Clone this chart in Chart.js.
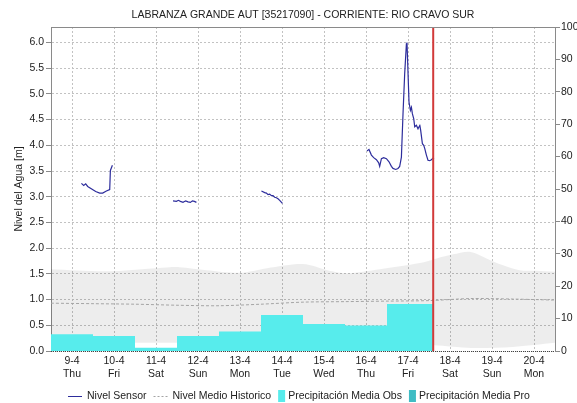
<!DOCTYPE html>
<html>
<head>
<meta charset="utf-8">
<script src="https://cdn.jsdelivr.net/npm/chart.js@4.4.1/dist/chart.umd.min.js"></script>
<style>
  html, body { margin: 0; padding: 0; background: #ffffff; }
  #wrap { width: 577px; height: 403px; }
</style>
</head>
<body>
<div id="wrap"><canvas id="c" width="577" height="403" style="width:577px;height:403px"></canvas></div>
<script>
// ---- chart text ----
const chartTitle = 'LABRANZA GRANDE AUT [35217090] - CORRIENTE: RIO CRAVO SUR';
const levelAxisTitle = 'Nivel del Agua [m]';

// ---- x axis: one tick per day (day 0 = 9-4) ----
const dayLabels = ['9-4', '10-4', '11-4', '12-4', '13-4', '14-4', '15-4', '16-4', '17-4', '18-4', '19-4', '20-4'];
const weekdays  = ['Thu', 'Fri', 'Sat', 'Sun', 'Mon', 'Tue', 'Wed', 'Thu', 'Fri', 'Sat', 'Sun', 'Mon'];
const dayMin = -0.5;
const dayMax = 11.5;
const nowDay = 8.6;            // current time marker

// ---- y axes ----
const levelTicks = [0, 0.5, 1, 1.5, 2, 2.5, 3, 3.5, 4, 4.5, 5, 5.5, 6];
const levelMax = 6.3;
const rainTicks = [0, 10, 20, 30, 40, 50, 60, 70, 80, 90, 100];

// ---- sensor water level [m]; null = no reading ----
const sensorDay = [
  0.224, 0.279, 0.326, 0.374, 0.469, 0.564, 0.660, 0.731, 0.819, 0.898, 0.914, 0.962,
  1.5,
  2.405, 2.486, 2.533, 2.581, 2.643, 2.707, 2.762, 2.819, 2.867, 2.914, 2.962,
  3.5,
  4.510, 4.588, 4.629, 4.667, 4.707, 4.748, 4.786, 4.826, 4.867, 4.905, 4.945, 5.010,
  6.0,
  7.024, 7.071, 7.129, 7.183, 7.248, 7.302, 7.326, 7.367, 7.421, 7.486, 7.548, 7.605,
  7.643, 7.707, 7.762, 7.802, 7.843, 7.881, 7.921, 7.962, 7.976, 8.024, 8.057, 8.081,
  8.105, 8.136, 8.160, 8.200, 8.238, 8.262, 8.279, 8.302, 8.343, 8.374, 8.398, 8.438,
  8.476, 8.517, 8.557, 8.595, 8.619
];
const sensorLevel = [
  3.26, 3.22, 3.25, 3.20, 3.15, 3.10, 3.07, 3.07, 3.11, 3.14, 3.51, 3.61,
  null,
  2.92, 2.91, 2.93, 2.91, 2.89, 2.92, 2.90, 2.89, 2.92, 2.91, 2.89,
  null,
  3.11, 3.08, 3.07, 3.04, 3.05, 3.02, 3.02, 2.99, 2.98, 2.96, 2.93, 2.87,
  null,
  3.89, 3.92, 3.81, 3.76, 3.72, 3.66, 3.59, 3.74, 3.76, 3.74, 3.68, 3.59,
  3.55, 3.53, 3.55, 3.59, 3.77, 4.61, 5.39, 5.97, 6.00, 4.84, 4.68, 4.74,
  4.61, 4.52, 4.36, 4.39, 4.32, 4.36, 4.40, 4.29, 4.03, 4.00, 3.94, 3.81,
  3.71, 3.70, 3.72, 3.75, 3.74
];

// ---- historic level: mean line and min/max envelope [m] ----
const histMeanDay = [-0.5, 0.5, 1.5, 2.5, 3.5, 4.5, 5.5, 6.5, 7.5, 8.5, 9.5, 10.5, 11.5];
const histMean    = [0.93, 0.92, 0.91, 0.89, 0.88, 0.91, 0.95, 0.96, 0.97, 0.98, 1.02, 1.01, 0.99];
const histMaxDay  = [-0.5, 0.83, 2.02, 2.56, 3.21, 3.99, 4.64, 5.5, 6.13, 6.54, 7.33, 8.28, 8.68, 9.07, 9.47, 9.87, 10.25, 10.66, 11.06, 11.5];
const histMax     = [1.59, 1.55, 1.61, 1.63, 1.57, 1.52, 1.61, 1.69, 1.56, 1.51, 1.59, 1.71, 1.80, 1.88, 1.93, 1.80, 1.67, 1.57, 1.56, 1.54];
const histMinDay  = [-0.5, 2.0, 4.0, 6.0, 8.0, 8.6, 9.5, 10.5, 11.5];
const histMin     = [0.15, 0.16, 0.15, 0.13, 0.11, 0.11, 0.06, 0.08, 0.16];

// ---- daily mean precipitation [mm], one value per day from 9-4 ----
const rainObs = [5.2, 4.6, 1.0, 4.6, 6.0, 11.1, 8.3, 7.9, 14.5];
const rainPro = [];

// ---- colours ----
const sensorColor = '#2d2d9c';
const meanColor = '#a4a4a4';
const bandColor = 'rgba(0,0,0,0.072)';
const obsColor = '#57ecec';
const proColor = '#3fbcc4';
const nowColor = '#d23a3a';
const gridColor = '#c2c2c2';
const frameColor = '#8a8a8a';
const textColor = '#222222';
const fontFamily = '"Liberation Sans", Arial, sans-serif';
const fontSize = 10.5;

const zip = (xs, ys) => xs.map((x, i) => ({ x: x, y: ys[i] }));

// each daily total covers its day (centred on the tick), the last one runs up to now
const rainPoints = rainObs.map((v, i) => ({ x: i - 0.5, y: v }))
  .concat([{ x: nowDay, y: rainObs[rainObs.length - 1] }]);

const legendEntries = [
  { label: 'Nivel Sensor', kind: 'line' },
  { label: 'Nivel Medio Historico', kind: 'dash' },
  { label: 'Precipitación Media Obs', kind: 'box' },
  { label: 'Precipitación Media Pro', kind: 'box' }
];

Chart.defaults.font.family = fontFamily;
Chart.defaults.font.size = fontSize;
Chart.defaults.color = textColor;

// outer frame: grey top edge and dotted base line
const framePlugin = {
  id: 'frame',
  afterDatasetsDraw(chart) {
    const { ctx, chartArea: a } = chart;
    ctx.save();
    ctx.lineWidth = 1;
    ctx.strokeStyle = frameColor;
    ctx.beginPath();
    ctx.moveTo(a.left, Math.round(a.top) + 0.5);
    ctx.lineTo(a.right, Math.round(a.top) + 0.5);
    ctx.stroke();
    ctx.strokeStyle = '#444444';
    ctx.setLineDash([1, 1]);
    ctx.beginPath();
    ctx.moveTo(a.left, Math.round(a.bottom) + 0.5);
    ctx.lineTo(a.right, Math.round(a.bottom) + 0.5);
    ctx.stroke();
    ctx.restore();
  }
};

// title over the plot and legend row under the axis
const captionPlugin = {
  id: 'captions',
  afterDraw(chart) {
    const { ctx, chartArea: a } = chart;
    const cx = (a.left + a.right) / 2;
    ctx.save();
    ctx.fillStyle = textColor;
    ctx.font = fontSize + 'px ' + fontFamily;
    ctx.textBaseline = 'middle';
    ctx.textAlign = 'center';
    ctx.fillText(chartTitle, cx, 15);

    const byLabel = {};
    chart.data.datasets.forEach(ds => { byLabel[ds.label] = ds; });
    const items = legendEntries.map(e => {
      const ds = byLabel[e.label];
      const sw = e.kind === 'box' ? 7 : 14;
      const gap = e.kind === 'box' ? 3 : 5;
      const tw = ctx.measureText(e.label).width;
      return { e, ds, sw, gap, tw, w: sw + gap + tw };
    });
    const spacing = 7;
    const total = items.reduce((s, it) => s + it.w, 0) + spacing * (items.length - 1);
    let x = Math.round(cx - 4 - total / 2);
    const y = 396;
    ctx.textAlign = 'left';
    items.forEach(it => {
      if (it.e.kind === 'box') {
        ctx.fillStyle = it.ds.backgroundColor;
        ctx.fillRect(x, y - 6, it.sw, 12);
      } else {
        ctx.strokeStyle = it.ds.borderColor;
        ctx.lineWidth = 1;
        ctx.setLineDash(it.e.kind === 'dash' ? [2, 2] : []);
        ctx.beginPath();
        ctx.moveTo(x, y + 0.5);
        ctx.lineTo(x + it.sw, y + 0.5);
        ctx.stroke();
        ctx.setLineDash([]);
      }
      ctx.fillStyle = textColor;
      ctx.fillText(it.e.label, x + it.sw + it.gap, y);
      x += it.w + spacing;
    });
    ctx.restore();
  }
};

new Chart(document.getElementById('c'), {
  type: 'line',
  data: {
    datasets: [
      {
        label: 'Ahora', data: [{ x: nowDay, y: 0 }, { x: nowDay, y: levelMax }],
        yAxisID: 'y', borderColor: nowColor, borderWidth: 2, pointRadius: 0, fill: false, order: 0
      },
      {
        label: 'Nivel Sensor', data: zip(sensorDay, sensorLevel),
        yAxisID: 'y', borderColor: sensorColor, borderWidth: 1.2, pointRadius: 0,
        spanGaps: false, fill: false, tension: 0, order: 1
      },
      {
        label: 'Precipitación Media Obs', data: rainPoints,
        yAxisID: 'y2', stepped: 'before', fill: 'origin', backgroundColor: obsColor,
        borderColor: 'transparent', borderWidth: 0, pointRadius: 0, order: 2
      },
      {
        label: 'Precipitación Media Pro', data: rainPro,
        yAxisID: 'y2', stepped: 'before', fill: 'origin', backgroundColor: proColor,
        borderColor: 'transparent', borderWidth: 0, pointRadius: 0, order: 3
      },
      {
        label: 'Nivel Medio Historico', data: zip(histMeanDay, histMean),
        yAxisID: 'y', borderColor: meanColor, borderWidth: 1, borderDash: [3, 2],
        pointRadius: 0, fill: false, tension: 0.3, order: 4
      },
      {
        label: 'Máximo Historico', data: zip(histMaxDay, histMax),
        yAxisID: 'y', borderColor: 'transparent', borderWidth: 0, pointRadius: 0,
        fill: { target: 6 }, backgroundColor: bandColor, tension: 0.3, order: 5
      },
      {
        label: 'Mínimo Historico', data: zip(histMinDay, histMin),
        yAxisID: 'y', borderColor: 'transparent', borderWidth: 0, pointRadius: 0,
        fill: false, tension: 0.3, order: 6
      }
    ]
  },
  options: {
    responsive: false,
    animation: false,
    events: [],
    layout: { padding: { top: 27, bottom: 22, left: 0, right: 0 } },
    plugins: {
      legend: { display: false },
      title: { display: false },
      tooltip: { enabled: false }
    },
    scales: {
      x: {
        type: 'linear', min: dayMin, max: dayMax,
        afterBuildTicks: s => { s.ticks = dayLabels.map((_, i) => ({ value: i })); },
        afterFit: s => { s.height = 30; },
        ticks: {
          autoSkip: false, maxRotation: 0, padding: 4, color: textColor,
          callback: v => [dayLabels[v], weekdays[v]]
        },
        grid: { color: gridColor, drawTicks: false },
        border: { display: false, dash: [2, 2] }
      },
      y: {
        position: 'left', min: 0, max: levelMax,
        afterBuildTicks: s => { s.ticks = levelTicks.map(v => ({ value: v })); },
        afterFit: s => { s.width = 51; },
        ticks: { padding: 2, color: textColor, callback: v => Number(v).toFixed(1) },
        grid: { color: gridColor, tickColor: frameColor, tickLength: 5 },
        border: { display: true, color: frameColor, width: 1, dash: [2, 2] },
        title: { display: true, text: levelAxisTitle, color: textColor, padding: { top: 13, bottom: 0 } }
      },
      y2: {
        position: 'right', min: 0, max: 100,
        afterBuildTicks: s => { s.ticks = rainTicks.map(v => ({ value: v })); },
        afterFit: s => { s.width = 22; },
        ticks: { padding: 1, color: textColor },
        grid: { drawOnChartArea: false, tickColor: frameColor, tickLength: 5 },
        border: { display: true, color: frameColor, width: 1 }
      }
    }
  },
  plugins: [framePlugin, captionPlugin]
});
</script>
</body>
</html>
